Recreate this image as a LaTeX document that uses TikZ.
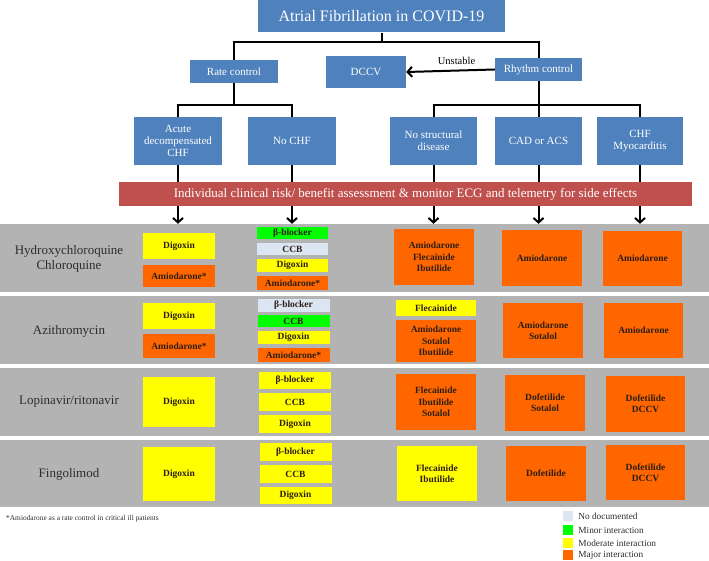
\documentclass[tikz,border=0pt]{standalone}
\usepackage{fontspec}
\setmainfont{Liberation Serif}
\usetikzlibrary{arrows.meta}
\definecolor{boxblue}{RGB}{79,129,189}
\definecolor{barred}{RGB}{192,80,77}
\definecolor{bandgray}{RGB}{179,179,179}
\definecolor{major}{RGB}{255,102,0}
\definecolor{moderate}{RGB}{255,255,0}
\definecolor{minor}{RGB}{0,255,0}
\definecolor{nodoc}{RGB}{220,230,242}
\definecolor{celltext}{RGB}{45,30,20}
\definecolor{labeltext}{RGB}{45,45,45}
\begin{document}
\begin{tikzpicture}[x=1pt,y=-1pt,>={Straight Barb[length=4.5pt,width=10pt]},
  sz/.style 2 args={minimum width=#1pt,minimum height=#2pt},
  flow/.style={fill=boxblue,text=white,align=center,inner sep=0pt,font=\fontsize{11}{12}\selectfont},
  band/.style={fill=bandgray,inner sep=0pt,minimum width=709pt},
  drug/.style={text=labeltext,align=center,font=\fontsize{13}{14.5}\selectfont},
  cell/.style={text=celltext,align=center,inner sep=0pt,font=\fontsize{9.5}{11.3}\selectfont\bfseries},
  key/.style={inner sep=0pt,minimum size=10pt},
  keytext/.style={text=labeltext,anchor=west,inner sep=0pt,font=\fontsize{9.3}{10}\selectfont},
  link/.style={line width=2pt}]
\useasboundingbox (0,0) rectangle (709,561);
\node[flow,sz={247}{32},font=\fontsize{16}{18}\selectfont] (title) at (381.5,16.5) {Atrial Fibrillation in COVID-19};
\node[flow,sz={88}{23}] (rate) at (234,71.5) {Rate control};
\node[flow,sz={80}{32}] (dccv) at (366,72) {DCCV};
\node[flow,sz={87}{23}] (rhythm) at (538.5,69.5) {Rhythm control};
\node[flow,sz={88}{48}] (acute) at (178,141) {Acute\\decompensated\\CHF};
\node[flow,sz={88}{48}] (nochf) at (292,141) {No CHF};
\node[flow,sz={87}{48}] (nostruct) at (433.5,141) {No structural\\disease};
\node[flow,sz={87}{48}] (cad) at (538.5,141) {CAD or ACS};
\node[flow,sz={86}{48}] (myo) at (640,141) {CHF\\Myocarditis};
\node[fill=barred,text=white,inner sep=0pt,sz={573}{24},font=\fontsize{13}{15}\selectfont] (bar) at (405.5,194) {Individual clinical risk/ benefit assessment \& monitor ECG and telemetry for side effects};

\draw[link] (title.south) -- ++(0,9) -| (rate.north);
\draw[link] (title.south) -- ++(0,9) -| (rhythm.north);
\draw[link,->] (rhythm.west) -- node[above=2pt,xshift=6pt,font=\fontsize{10.5}{12}\selectfont]{Unstable} (dccv.east);
\draw[link] (rate.south) -- ++(0,22) -| (acute.north);
\draw[link] (rate.south) -- ++(0,22) -| (nochf.north);
\draw[link] (rhythm.south) -- ++(0,24) -| (nostruct.north);
\draw[link] (rhythm.south) -- ++(0,24) -| (cad.north);
\draw[link] (rhythm.south) -- ++(0,24) -| (myo.north);

\node[band,minimum height=68pt] (band1) at (354.5,258) {};
\node[band,minimum height=68pt] (band2) at (354.5,330) {};
\node[band,minimum height=68pt] (band3) at (354.5,402) {};
\node[band,minimum height=67pt] (band4) at (354.5,473.5) {};

\foreach \col in {acute,nochf,nostruct,cad,myo}{
  \draw[link] (\col.south) -- (\col.south |- bar.north);
  \draw[link,->] (\col.south |- bar.south) -- (\col.south |- band1.north);
}

\node[drug] (hcq) at (69,259) {Hydroxychloroquine\\Chloroquine};
\node[drug] (azi) at (69,331) {Azithromycin};
\node[drug] (lpv) at (69,402) {Lopinavir/ritonavir};
\node[drug] (fgl) at (69,474) {Fingolimod};

% rate control, acute decompensated CHF
\node[cell,fill=moderate,sz={72}{26}] (a1) at (179,246) {Digoxin};
\node[cell,fill=major,sz={72}{22}] (a2) at (179,276) {Amiodarone*};
\node[cell,fill=moderate,sz={72}{26}] (b1) at (179,316) {Digoxin};
\node[cell,fill=major,sz={72}{24}] (b2) at (179,346) {Amiodarone*};
\node[cell,fill=moderate,sz={72}{50}] (c1) at (179,402) {Digoxin};
\node[cell,fill=moderate,sz={72}{54}] (d1) at (179,474) {Digoxin};

% rate control, no CHF
\node[cell,fill=minor,sz={71}{12}] (a3) at (292.5,233) {β-blocker};
\node[cell,fill=nodoc,sz={71}{12}] (a4) at (292.5,249) {CCB};
\node[cell,fill=moderate,sz={71}{13}] (a5) at (292.5,265.5) {Digoxin};
\node[cell,fill=major,sz={71}{14}] (a6) at (292.5,283) {Amiodarone*};
\node[cell,fill=nodoc,sz={72}{13}] (b3) at (293.5,305.5) {β-blocker};
\node[cell,fill=minor,sz={72}{12}] (b4) at (293.5,321) {CCB};
\node[cell,fill=moderate,sz={72}{13}] (b5) at (293.5,337.5) {Digoxin};
\node[cell,fill=major,sz={72}{14}] (b6) at (293.5,355) {Amiodarone*};
\node[cell,fill=moderate,sz={72}{17}] (c3) at (295,380.5) {β-blocker};
\node[cell,fill=moderate,sz={72}{18}] (c4) at (295,402) {CCB};
\node[cell,fill=moderate,sz={72}{18}] (c5) at (295,424) {Digoxin};
\node[cell,fill=moderate,sz={72}{18}] (d3) at (295.5,452) {β-blocker};
\node[cell,fill=moderate,sz={72}{18}] (d4) at (295.5,474) {CCB};
\node[cell,fill=moderate,sz={72}{17}] (d5) at (295.5,495.5) {Digoxin};

% rhythm control, no structural disease
\node[cell,fill=major,sz={80}{56}] (a7) at (434,257) {Amiodarone\\Flecainide\\Ibutilide};
\node[cell,fill=moderate,sz={80}{16}] (b7) at (436,308) {Flecainide};
\node[cell,fill=major,sz={80}{42}] (b8) at (436,341) {Amiodarone\\Sotalol\\Ibutilide};
\node[cell,fill=major,sz={80}{56}] (c7) at (436,402) {Flecainide\\Ibutilide\\Sotalol};
\node[cell,fill=moderate,sz={80}{55}] (d7) at (437,473.5) {Flecainide\\Ibutilide};

% rhythm control, CAD or ACS
\node[cell,fill=major,sz={80}{56}] (a9) at (542,258) {Amiodarone};
\node[cell,fill=major,sz={80}{55}] (b9) at (543,330.5) {Amiodarone\\Sotalol};
\node[cell,fill=major,sz={80}{56}] (c9) at (545,403) {Dofetilide\\Sotalol};
\node[cell,fill=major,sz={80}{55}] (d9) at (546,473.5) {Dofetilide};

% rhythm control, CHF myocarditis
\node[cell,fill=major,sz={79}{55}] (a10) at (642.5,258.5) {Amiodarone};
\node[cell,fill=major,sz={79}{55}] (b10) at (643.5,330.5) {Amiodarone};
\node[cell,fill=major,sz={79}{56}] (c10) at (645.5,404) {Dofetilide\\DCCV};
\node[cell,fill=major,sz={79}{55}] (d10) at (645.5,472.5) {Dofetilide\\DCCV};

\node[text=labeltext,anchor=west,inner sep=0pt,font=\fontsize{7.4}{8}\selectfont] (note) at (6,519) {*Amiodarone as a rate control in critical ill patients};

\node[key,fill=nodoc] (k1) at (568,516) {};
\node[key,fill=minor] (k2) at (568,530) {};
\node[key,fill=moderate] (k3) at (568,543) {};
\node[key,fill=major] (k4) at (568,555) {};
\node[keytext] at ([xshift=5pt]k1.east) {No documented};
\node[keytext] at ([xshift=5pt]k2.east) {Minor interaction};
\node[keytext] at ([xshift=5pt]k3.east) {Moderate interaction};
\node[keytext] at ([xshift=5pt]k4.east) {Major interaction};
\end{tikzpicture}
\end{document}
